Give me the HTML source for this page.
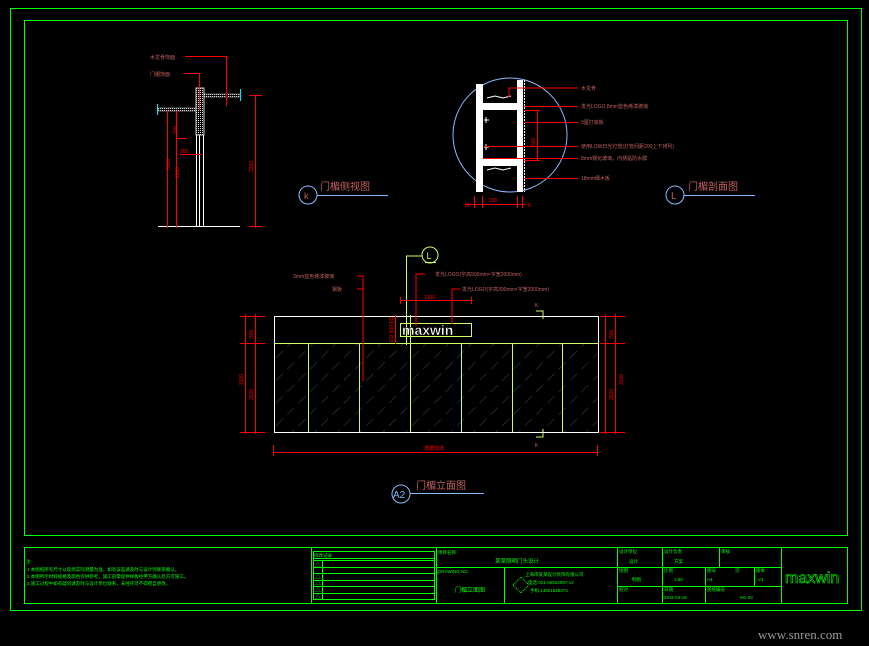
<!DOCTYPE html>
<html><head><meta charset="utf-8"><style>
html,body{margin:0;padding:0;background:#000;width:869px;height:646px;overflow:hidden}
svg{display:block}
text{font-family:"Liberation Sans","Noto Sans CJK SC",sans-serif}
</style></head><body>
<svg width="869" height="646" viewBox="0 0 869 646" xmlns="http://www.w3.org/2000/svg">
<rect width="869" height="646" fill="#000"/>
<defs>
<clipPath id="gl"><rect x="274" y="343" width="324" height="89"/></clipPath>
<pattern id="hatch" width="16" height="16" patternUnits="userSpaceOnUse" patternTransform="rotate(45)">
<line x1="0" y1="0" x2="0" y2="16" stroke="#777" stroke-width="0.6" stroke-dasharray="10 6"/>
</pattern>
<pattern id="dots" width="2" height="2" patternUnits="userSpaceOnUse"><rect width="1" height="1" fill="#ddd"/></pattern>
</defs>
<!-- frames -->
<rect x="10.5" y="8.5" width="851" height="602" fill="none" stroke="#00ff00" stroke-width="1"/>
<rect x="24.5" y="20.5" width="823" height="515" fill="none" stroke="#00ff00" stroke-width="1"/>

<!-- ===== Top-left side view ===== -->
<g stroke-width="1" fill="none">
<line x1="158" y1="226.5" x2="240" y2="226.5" stroke="#fff"/>
<line x1="196.5" y1="135" x2="196.5" y2="226" stroke="#fff"/>
<line x1="199.5" y1="135" x2="199.5" y2="226" stroke="#fff"/>
<line x1="203.5" y1="135" x2="203.5" y2="226" stroke="#fff"/>
<rect x="196" y="88" width="8" height="47" fill="url(#dots)" stroke="#ccc"/>
<rect x="158" y="108" width="38" height="3" fill="url(#dots)" stroke="#ccc" stroke-width="0.5"/>
<rect x="204" y="94" width="36" height="3" fill="url(#dots)" stroke="#ccc" stroke-width="0.5"/>
<line x1="157.5" y1="104" x2="157.5" y2="115" stroke="#00e5ff"/>
<line x1="240.5" y1="89" x2="240.5" y2="101" stroke="#00e5ff"/>
<g stroke="#ff0000">
<line x1="185" y1="56.5" x2="227" y2="56.5"/><line x1="226.5" y1="56" x2="226.5" y2="106"/>
<line x1="184" y1="73.5" x2="199" y2="73.5"/><line x1="199.5" y1="73" x2="199.5" y2="110"/>
<line x1="255.5" y1="95" x2="255.5" y2="228"/>
<line x1="249" y1="95.5" x2="262" y2="95.5"/><line x1="249" y1="226.5" x2="262" y2="226.5"/>
<line x1="167.5" y1="111" x2="167.5" y2="228"/>
<line x1="176.5" y1="111" x2="176.5" y2="228"/>
<line x1="176" y1="138.5" x2="187" y2="138.5"/>
<line x1="180" y1="154.5" x2="202" y2="154.5"/>
</g>
</g>
<g fill="#c06060" font-size="5">
<text x="150" y="59">木龙骨饰面</text>
<text x="150" y="76">门楣饰面</text>
</g>
<g fill="#ff0000" font-size="5">
<text transform="translate(170,170) rotate(-90)">3100</text>
<text transform="translate(179,178) rotate(-90)">2600</text>
<text transform="translate(177,134) rotate(-90)">500</text>
<text x="180" y="153">200</text>
<text transform="translate(253,172) rotate(-90)">3300</text>
</g>
<circle cx="308" cy="195" r="9" fill="none" stroke="#88bbff"/>
<text x="304" y="199" fill="#c06060" font-size="9">k</text>
<line x1="317" y1="195.5" x2="388" y2="195.5" stroke="#88bbff"/>
<text x="320" y="190" fill="#c06060" font-size="10">门楣侧视图</text>

<!-- ===== Top-right detail circle ===== -->
<circle cx="510" cy="135" r="57" fill="none" stroke="#88bbff"/>
<rect x="476" y="84" width="7" height="108" fill="#fff"/>
<rect x="517" y="80" width="6" height="112" fill="#fff"/>
<rect x="483" y="103" width="34" height="7" fill="#fff"/>
<rect x="483" y="159" width="34" height="7" fill="#fff"/>
<line x1="524.5" y1="80" x2="524.5" y2="192" stroke="#fff" stroke-dasharray="2 1"/>
<g stroke="#fff" stroke-width="1" fill="none">
<path d="M487 98 l8 -2 l8 2 l8 -2"/><path d="M487 170 l8 -2 l8 2 l8 -2"/>
<path d="M484 120 h5 M486 117 v6"/><path d="M484 147 h5 M486 144 v6"/>
</g>
<g stroke="#ff0000" fill="none">
<path d="M509 97 v-9 h69"/>
<line x1="524" y1="106.5" x2="578" y2="106.5"/>
<line x1="524" y1="122.5" x2="578" y2="122.5"/>
<line x1="484" y1="146.5" x2="578" y2="146.5"/>
<line x1="483" y1="158.5" x2="578" y2="158.5"/>
<line x1="524" y1="178.5" x2="578" y2="178.5"/>
<line x1="537.5" y1="110" x2="537.5" y2="161"/>
<line x1="524" y1="110.5" x2="540" y2="110.5"/><line x1="524" y1="160.5" x2="540" y2="160.5"/>
<line x1="465" y1="204.5" x2="525" y2="204.5"/>
<line x1="474.5" y1="196" x2="474.5" y2="208"/><line x1="482.5" y1="196" x2="482.5" y2="208"/>
<line x1="517.5" y1="196" x2="517.5" y2="208"/><line x1="522.5" y1="196" x2="522.5" y2="208"/>
</g>
<g fill="#c06060" font-size="5">
<text x="581" y="90">木龙骨</text>
<text x="581" y="108">发光LOGO,8mm蓝色烤漆玻璃</text>
<text x="581" y="124">3厘打底板</text>
<text x="581" y="148">使用LOW日光灯管(灯管间距200上下排列)</text>
<text x="581" y="160">8mm钢化玻璃，内侧贴防水膜</text>
<text x="581" y="180">18mm细木板</text>
</g>
<g fill="#ff0000" font-size="5">
<text transform="translate(535,146) rotate(-90)">500</text>
<text x="489" y="202">200</text>
<text x="464" y="207">10</text><text x="528" y="207">8</text>
</g>
<circle cx="675" cy="195" r="9" fill="none" stroke="#88bbff"/>
<text x="671" y="199" fill="#c06060" font-size="10">L</text>
<line x1="684" y1="195.5" x2="755" y2="195.5" stroke="#88bbff"/>
<text x="688" y="190" fill="#c06060" font-size="10">门楣剖面图</text>

<!-- ===== Elevation ===== -->
<rect x="274" y="343" width="324" height="89" fill="url(#hatch)" clip-path="url(#gl)"/>
<rect x="274.5" y="316.5" width="324" height="116" fill="none" stroke="#fff"/>
<line x1="274" y1="343.5" x2="598" y2="343.5" stroke="#ccff66"/>
<g stroke="#ccff66">
<line x1="308.5" y1="343" x2="308.5" y2="432"/><line x1="359.5" y1="343" x2="359.5" y2="432"/>
<line x1="410.5" y1="343" x2="410.5" y2="432"/><line x1="461.5" y1="343" x2="461.5" y2="432"/>
<line x1="512.5" y1="343" x2="512.5" y2="432"/><line x1="562.5" y1="343" x2="562.5" y2="432"/>
<path d="M536 311 h7 v8" fill="none"/><path d="M536 437 h7 v-8" fill="none"/>
<path d="M406 256 h16" fill="none"/>
<line x1="406.5" y1="256" x2="406.5" y2="345"/>
<line x1="410.5" y1="315" x2="410.5" y2="345"/>
</g>
<circle cx="430" cy="255" r="8" fill="none" stroke="#ccff66"/>
<text x="426.5" y="259" fill="#ccff66" font-size="9">L</text>
<line x1="425" y1="262.5" x2="436" y2="262.5" stroke="#ccff66"/>
<rect x="400.5" y="323.5" width="71" height="13" fill="none" stroke="#ccff66"/>
<text x="402" y="335" fill="#fff" font-size="14" style="font-family:'Liberation Sans',sans-serif;font-weight:bold" stroke="#000" stroke-width="0.4">maxwin</text>
<g fill="#c06060" font-size="5">
<text x="535" y="307">K</text><text x="535" y="447">K</text>
</g>
<g stroke="#ff0000" fill="none">
<line x1="245.5" y1="314" x2="245.5" y2="434"/>
<line x1="255.5" y1="314" x2="255.5" y2="434"/>
<line x1="240" y1="316.5" x2="265" y2="316.5"/>
<line x1="240" y1="343.5" x2="265" y2="343.5"/>
<line x1="240" y1="432.5" x2="265" y2="432.5"/>
<line x1="605.5" y1="314" x2="605.5" y2="434"/>
<line x1="615.5" y1="314" x2="615.5" y2="434"/>
<line x1="600" y1="316.5" x2="625" y2="316.5"/>
<line x1="600" y1="343.5" x2="625" y2="343.5"/>
<line x1="600" y1="432.5" x2="625" y2="432.5"/>
<line x1="273" y1="452.5" x2="598" y2="452.5"/>
<line x1="273.5" y1="445" x2="273.5" y2="456"/><line x1="597.5" y1="445" x2="597.5" y2="456"/>
<path d="M357 276 h6 v105"/><path d="M357 289 h6"/>
<path d="M425 274 h-9 v52"/>
<path d="M452 289 v35"/><path d="M452 289 h8"/>
<line x1="400" y1="300.5" x2="472" y2="300.5"/>
<line x1="400.5" y1="297" x2="400.5" y2="304"/><line x1="471.5" y1="297" x2="471.5" y2="304"/>
<line x1="395.5" y1="315" x2="395.5" y2="344"/>
</g>
<g fill="#ff0000" font-size="5">
<text transform="translate(253,338) rotate(-90)">800</text>
<text transform="translate(253,400) rotate(-90)">2600</text>
<text transform="translate(243,385) rotate(-90)">3100</text>
<text transform="translate(613,338) rotate(-90)">800</text>
<text transform="translate(613,400) rotate(-90)">2600</text>
<text transform="translate(623,385) rotate(-90)">3100</text>
<text x="424" y="450">根据现场</text>
<text x="424" y="299">2100</text>
<text transform="translate(393,342) rotate(-90)">EQ 500 EQ</text>
</g>
<g fill="#c06060" font-size="5">
<text x="293" y="278">3mm蓝色烤漆玻璃</text>
<text x="332" y="291">钢板</text>
<text x="435" y="276">发光LOGO(字高500mm×字宽2000mm)</text>
<text x="462" y="291">发光LOGO(字高300mm×字宽2000mm)</text>
</g>
<circle cx="401" cy="494" r="9" fill="none" stroke="#88bbff"/>
<text x="393" y="498" fill="#88bbff" font-size="10">A2</text>
<line x1="410" y1="493.5" x2="484" y2="493.5" stroke="#88bbff"/>
<text x="416" y="489" fill="#c06060" font-size="10">门楣立面图</text>

<!-- ===== Title block ===== -->
<g stroke="#00ff00" fill="none" stroke-width="1">
<rect x="24.5" y="547.5" width="823" height="56"/>
<line x1="311.5" y1="548" x2="311.5" y2="603"/>
<line x1="436.5" y1="548" x2="436.5" y2="603"/>
<line x1="504.5" y1="567" x2="504.5" y2="603"/>
<line x1="617.5" y1="548" x2="617.5" y2="603"/>
<line x1="662.5" y1="548" x2="662.5" y2="603"/>
<line x1="705.5" y1="567" x2="705.5" y2="603"/>
<line x1="719.5" y1="548" x2="719.5" y2="567"/>
<line x1="754.5" y1="567" x2="754.5" y2="586"/>
<line x1="781.5" y1="548" x2="781.5" y2="603"/>
<line x1="436" y1="567.5" x2="781" y2="567.5"/>
<line x1="617" y1="586.5" x2="781" y2="586.5"/>
<rect x="313.5" y="551.5" width="121" height="48"/>
<line x1="313" y1="558.5" x2="435" y2="558.5"/>
<line x1="313" y1="560.5" x2="435" y2="560.5"/>
<line x1="313" y1="567.5" x2="435" y2="567.5"/>
<line x1="313" y1="573.5" x2="435" y2="573.5"/>
<line x1="313" y1="580.5" x2="435" y2="580.5"/>
<line x1="313" y1="586.5" x2="435" y2="586.5"/>
<line x1="313" y1="593.5" x2="435" y2="593.5"/>
<line x1="322.5" y1="560" x2="322.5" y2="600"/>
</g>
<g fill="#00ff00" font-size="4.5">
<text x="26" y="563">注:</text>
<text x="27" y="571">1.本图纸所有尺寸以现场实际测量为准，如有误差请及时与设计师联系确认。</text>
<text x="27" y="578">2.本图所示材料规格及颜色仅供参考，施工前需提供样板经甲方确认后方可施工。</text>
<text x="27" y="585">3.施工过程中如有疑问请及时与设计单位联系，未经许可不得擅自更改。</text>
<text x="314" y="557">修改记录</text>
<text x="438" y="554">项目名称</text>
<text x="495" y="563" font-size="5.5">某某照明门头设计</text>
<text x="438" y="573">DRAWING NO.</text>
<text x="455" y="592" font-size="6">门楣立面图</text>
<text x="525" y="576">上海市某某设计装饰有限公司</text>
<text x="528" y="584">电话:021-56522097-12</text>
<text x="530" y="592">手机:13501828373</text>
<text x="619" y="553">设计单位</text>
<text x="629" y="563">设计</text>
<text x="664" y="553">设计负责</text>
<text x="674" y="563">方案</text>
<text x="721" y="553">审核</text>
<text x="619" y="572">绘图</text><text x="632" y="581">制图</text>
<text x="664" y="572">比例</text><text x="674" y="581">1:50</text>
<text x="707" y="572">图号</text><text x="707" y="581">A4</text>
<text x="735" y="572">页</text><text x="756" y="572">版本</text><text x="758" y="581">V1</text>
<text x="619" y="591">校对</text>
<text x="664" y="591">日期</text><text x="664" y="599">2011-03-18</text>
<text x="707" y="591">图纸编号</text><text x="740" y="599">M1-03</text>
</g>
<g fill="#00ff00" font-size="6">
<text x="315" y="567">△</text><text x="315" y="579">△</text><text x="315" y="585">△</text><text x="315" y="592">△</text><text x="315" y="599">△</text>
</g>
<path d="M513 585 l8 -8 l8 8 l-8 8 z" fill="none" stroke="#00ff00" stroke-dasharray="1 1"/>
<text x="785" y="583" fill="none" stroke="#00ff00" stroke-width="0.6" font-size="16" style="font-family:'Liberation Sans',sans-serif">maxwin</text>

<text x="758" y="639" fill="#999" font-size="13" style="font-family:'Liberation Serif',serif">www.snren.com</text>
</svg>
</body></html>
